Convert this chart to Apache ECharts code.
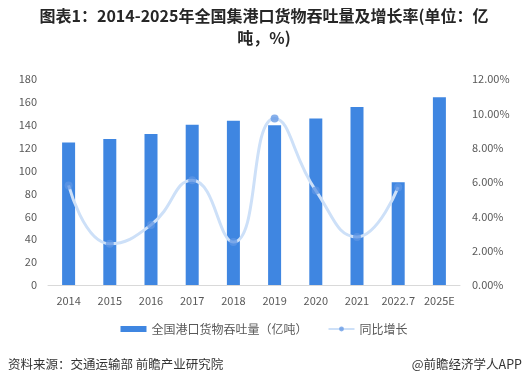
<!DOCTYPE html>
<html><head><meta charset="utf-8">
<script src="https://cdn.jsdelivr.net/npm/echarts@6/dist/echarts.min.js"></script>
<style>html,body{margin:0;padding:0;background:#fff}#c{width:528px;height:387px}</style>
</head><body><div id="c"></div>
<script>
var categories = ['2014','2015','2016','2017','2018','2019','2020','2021','2022.7','2025E'];
var throughput = [124.5, 127.5, 132.0, 140.1, 143.5, 139.5, 145.5, 155.5, 89.8, 164.0];
var growth = [5.8, 2.4, 3.5, 6.1, 2.5, 9.7, 5.5, 2.8, 5.7, null];
var leftTicks = [0, 180, 20];
var rightTicks = [0, 12, 2];
var FONT = '"Noto Sans CJK SC", "Noto Sans", sans-serif';

var chart = echarts.init(document.getElementById('c'), null, {renderer:'canvas'});
chart.setOption({
  animation:false,
  textStyle:{fontFamily:FONT},
  grid:{left:48, right:68, top:79, bottom:102, containLabel:false},
  legend:{
    bottom:47, left:'center', itemGap:20,
    textStyle:{fontSize:12, color:'#595959', fontFamily:FONT},
    data:[
      {name:'全国港口货物吞吐量（亿吨）', icon:'rect'},
      {name:'同比增长'}
    ],
    itemWidth:26, itemHeight:6
  },
  xAxis:{
    type:'category', data:categories,
    axisLine:{lineStyle:{color:'#d9d9d9'}},
    axisTick:{show:false},
    axisLabel:{color:'#595959', fontSize:11, margin:10, interval:0}
  },
  yAxis:[
    {type:'value', min:leftTicks[0], max:leftTicks[1], interval:leftTicks[2],
     splitLine:{show:false}, axisLine:{show:false}, axisTick:{show:false},
     axisLabel:{color:'#595959', fontSize:11, margin:11}},
    {type:'value', min:rightTicks[0], max:rightTicks[1], interval:rightTicks[2],
     splitLine:{show:false}, axisLine:{show:false}, axisTick:{show:false},
     axisLabel:{color:'#595959', fontSize:11, margin:12, formatter:function(v){return v.toFixed(2)+'%';}}}
  ],
  series:[
    {name:'全国港口货物吞吐量（亿吨）', type:'bar', data:throughput, barWidth:13,
     itemStyle:{color:'#3f86e1'}},
    {name:'同比增长', type:'line', yAxisIndex:1, data:growth, smooth:true,
     symbol:'circle', symbolSize:8,
     lineStyle:{color:'#cde0f8', width:3},
     itemStyle:{color:'rgba(95,150,228,0.75)'}}
  ],
  graphic:[
    {type:'text', x:264, y:8, style:{text:'图表1：2014-2025年全国集港口货物吞吐量及增长率(单位：亿', textAlign:'center', fontSize:16, fontWeight:'bold', fill:'#262626', fontFamily:FONT}},
    {type:'text', x:264, y:30, style:{text:'吨，%)', textAlign:'center', fontSize:16, fontWeight:'bold', fill:'#262626', fontFamily:FONT}},
    {type:'text', left:8, top:358, style:{text:'资料来源：交通运输部 前瞻产业研究院', fontSize:12.5, fill:'#333', fontFamily:FONT}},
    {type:'text', right:6, top:358, style:{text:'@前瞻经济学人APP', fontSize:12.5, fill:'#333', fontFamily:FONT}}
  ]
});
</script></body></html>
